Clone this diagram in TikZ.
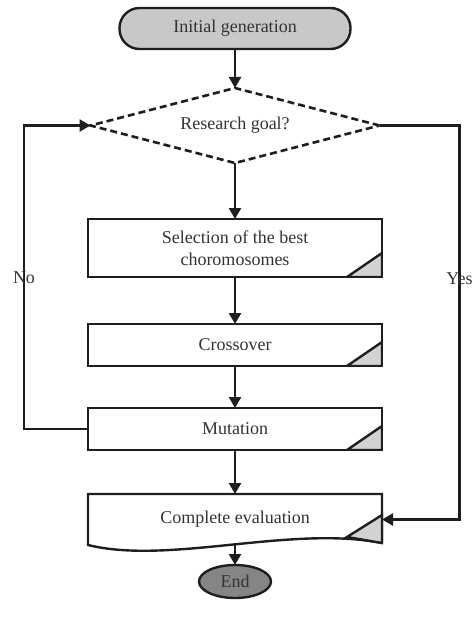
\documentclass[tikz,border=0pt]{standalone}
\usepackage{fontspec}
\setmainfont{Liberation Serif}
\usepackage{xcolor}
\definecolor{cLine}{HTML}{1E1E1E}
\definecolor{cText}{HTML}{333333}
\definecolor{cTerm}{HTML}{C8C8C8}
\definecolor{cEnd}{HTML}{858585}
\definecolor{cTag}{HTML}{D2D2D2}
\usepackage{tikz}
\usetikzlibrary{positioning,arrows.meta,shapes.geometric,calc}
\tikzset{
  node-term/.style={draw=cLine,line width=2.4pt,fill=cTerm,rounded corners=20pt,
    minimum width=231pt,minimum height=41pt,outer sep=0pt,text=cText},
  node-decision/.style={draw=cLine,line width=2.6pt,dash pattern=on 7pt off 4pt,
    diamond,aspect=3.9,minimum width=289pt,minimum height=75pt,
    inner sep=0pt,outer sep=0pt,text=cText},
  % process box with the grey tag in its lower right corner
  node-proc/.style={draw=cLine,line width=2.4pt,minimum width=294pt,outer sep=0pt,
    align=center,text=cText,
    path picture={\draw[cLine,line width=2.4pt,fill=cTag]
      (path picture bounding box.south east) -- ++(-35pt,0pt) -- ++(35pt,24pt) -- cycle;}},
  node-doc/.style={minimum width=294pt,minimum height=51pt,outer sep=0pt,text=cText},
  node-end/.style={draw=cLine,line width=2.4pt,ellipse,fill=cEnd,
    minimum width=72pt,minimum height=33pt,inner sep=0pt,outer sep=0pt,text=cText},
  arrow/.style={-{Triangle[length=11pt,width=12pt]},line width=2.4pt,draw=cLine},
  label-side/.style={text=cText,inner sep=0pt},
}

\begin{document}
\begin{tikzpicture}[x=1pt,y=1pt,font=\fontsize{18}{21.6}\selectfont]
  \useasboundingbox (0,0) rectangle (472,-626);
  \node[node-term] (start) at (235,-28.5) {Initial generation};
  \node[node-decision,below=39pt of start] (goal) {Research goal?};
  \node[node-proc,minimum height=58pt,below=56pt of goal] (select) {Selection of the best\\choromosomes};
  \node[node-proc,minimum height=42pt,below=47pt of select] (cross) {Crossover};
  \node[node-proc,minimum height=42pt,below=42pt of cross] (mut) {Mutation};
  \node[node-doc,below=44pt of mut] (eval) {Complete evaluation};
  \node[node-end,below=20pt of eval] (end) {End};
  % document shape: wavy bottom, tag on the right side
  \draw[cLine,line width=2.4pt] ($(eval.south east)+(0,2)$) -- (eval.north east)
    -- (eval.north west) -- (eval.south west)
    .. controls ($(eval.south west)+(81,-20)$) and ($(eval.south east)+(-92,20)$)
    .. ($(eval.south east)+(0,2)$);
  \draw[cLine,line width=2.4pt,fill=cTag] ($(eval.south east)+(0,2)$) -- ++(-35,6)
    -- ++(35,22) -- cycle;
  \draw[arrow] (start) -- (goal);
  \draw[arrow] (goal) -- (select);
  \draw[arrow] (select) -- (cross);
  \draw[arrow] (cross) -- (mut);
  \draw[arrow] (mut) -- (eval);
  \draw[arrow] (eval.south) -- (end);
  \draw[arrow] (mut.west) -- ++(-64,0) |- node[label-side,pos=0.25]{No} (goal.west);
  \draw[arrow] (goal.east) -- ++(80,0) |- node[label-side,pos=0.195]{Yes} (eval.east);
\end{tikzpicture}
\end{document}
